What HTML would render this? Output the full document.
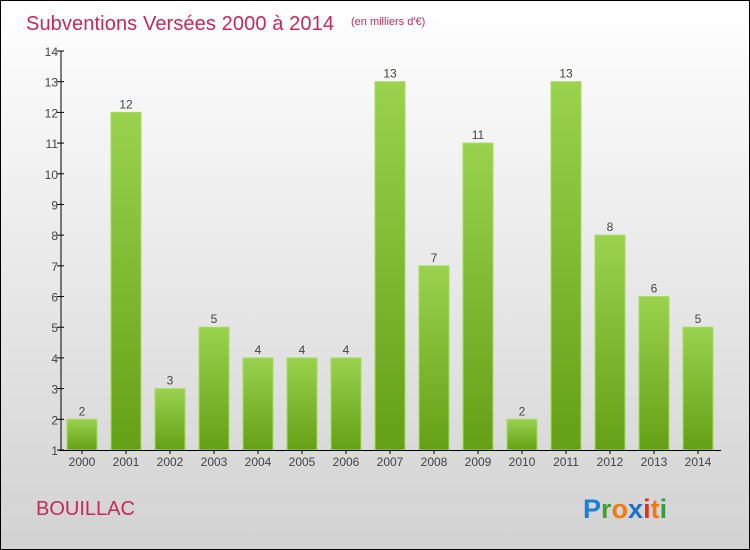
<!DOCTYPE html>
<html><head><meta charset="utf-8"><style>
body{margin:0}
#c{position:relative;width:748px;height:548px;border:1px solid #000;background:linear-gradient(#fff,#d2d2d2);font-family:"Liberation Sans",sans-serif;overflow:hidden}
</style></head><body>
<div id="c">
<svg id="s" width="748" height="548" style="position:absolute;left:0;top:0" font-family="Liberation Sans,sans-serif">
<text x="25" y="29" font-size="20" fill="#c8285a" textLength="308">Subventions Versées 2000 à 2014</text>
<text x="350" y="24" font-size="11" fill="#c8285a">(en milliers d'€)</text>
<text x="35" y="514" font-size="20" fill="#c8285a">BOUILLAC</text>
<g font-size="27" font-weight="bold">
<text x="582" y="517"><tspan fill="#1a7fd8">P</tspan><tspan fill="#40a030">r</tspan><tspan fill="#f07a10">o</tspan><tspan fill="#1a6fd0">x</tspan><tspan fill="#e03020">i</tspan><tspan fill="#f07a10">t</tspan><tspan fill="#30a040">i</tspan></text></g>
<defs><linearGradient id="g" x1="0" y1="0" x2="0" y2="1"><stop offset="0" stop-color="#9ad24e"/><stop offset="1" stop-color="#64a016"/></linearGradient></defs>
<g id="bars"></g><g id="axes"></g>
</svg></div>
<script>
const years=["2000","2001","2002","2003","2004","2005","2006","2007","2008","2009","2010","2011","2012","2013","2014"];
const values=[2,12,3,5,4,4,4,13,7,11,2,13,8,6,5];
const yTicks=[1,2,3,4,5,6,7,8,9,10,11,12,13,14];
const NS="http://www.w3.org/2000/svg";
const y0=449,y1=50,vmin=1,vmax=14;
function yS(v){return y0-(v-vmin)*(y0-y1)/(vmax-vmin);}
function xS(i){return 81+i*44;}
function mk(t,a,p){const e=document.createElementNS(NS,t);for(const k in a)e.setAttribute(k,a[k]);p.appendChild(e);return e;}
const B=document.getElementById('bars'),A=document.getElementById('axes');
values.forEach((v,i)=>{
 const r=mk('rect',{x:xS(i)-15,y:yS(v),width:30,height:y0-yS(v),fill:'url(#g)',stroke:'#a8dc62','stroke-width':1},B);
 
 
 const t=mk('text',{x:xS(i),y:yS(v)-4,'text-anchor':'middle','font-size':12,fill:'#444'},B);t.textContent=v;
 
 
 const l=mk('text',{x:xS(i),y:y0+16,'text-anchor':'middle','font-size':12,fill:'#444'},A);l.textContent=years[i];
 
 
 mk('line',{x1:xS(i),x2:xS(i),y1:y0,y2:y0+4,stroke:'#000'},A);
});
yTicks.forEach(v=>{
 mk('line',{x1:56,x2:63,y1:yS(v),y2:yS(v),stroke:'#000'},A);
 const t=mk('text',{x:57,y:yS(v)+5,'text-anchor':'end','font-size':12,fill:'#444'},A);t.textContent=v;
 
 
});
const ya=mk('line',{x1:60,x2:60,y1:y1,y2:y0,stroke:'#000'},A);


const xa=mk('line',{x1:58,x2:720,y1:y0+0.5,y2:y0+0.5,stroke:'#000'},A);


</script>
</body></html>
